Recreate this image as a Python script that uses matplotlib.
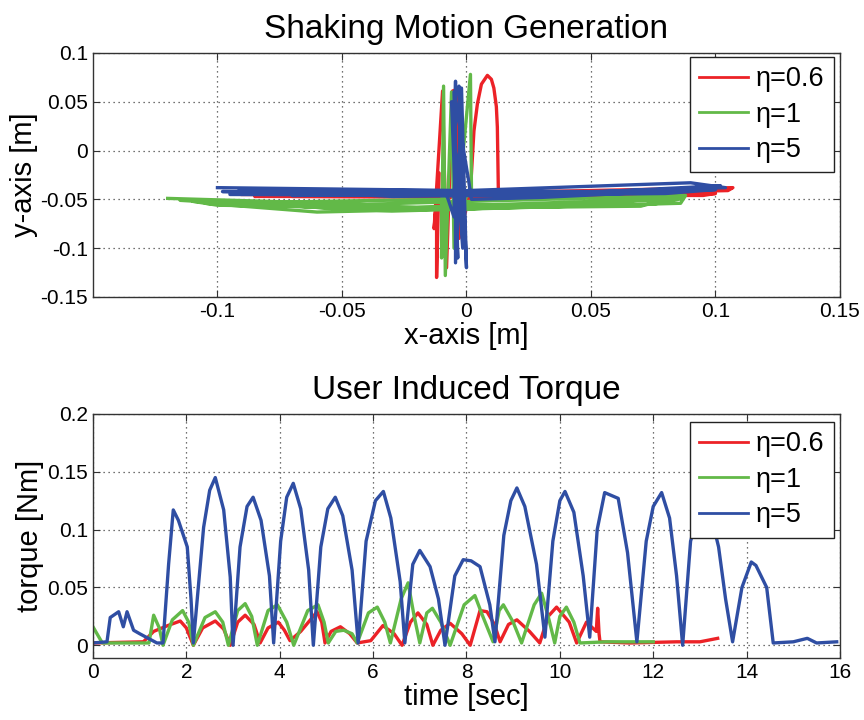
import matplotlib
matplotlib.use("Agg")
import matplotlib.pyplot as plt

plt.rcParams["font.family"] = ["Liberation Sans", "DejaVu Sans"]

# colours of the three gains
c_red = "#ec2227"
c_green = "#62b948"
c_blue = "#2f4ea3"
labels = ["\u03b7=0.6", "\u03b7=1", "\u03b7=5"]

# --- shaking motion (x, y) in metres ---
red_x = [-0.090, 0.020, 0.105, 0.107, 0.010, -0.080, -0.070, 0.030, 0.100, 0.095, -0.020, -0.060,
         -0.085, 0.060, 0.104,
         -0.012, -0.012, -0.011, -0.013, -0.0096, -0.008, -0.0056, -0.0036, -0.003,
         0.0016, 0.003, 0.0044, 0.006, 0.0084, 0.010, 0.011, 0.012, 0.0124, 0.0128, 0.040, 0.090]
red_y = [-0.045, -0.046, -0.041, -0.038, -0.043, -0.044, -0.047, -0.048, -0.044, -0.046, -0.046, -0.045,
         -0.047, -0.047, -0.040,
         -0.045, -0.130, -0.023, -0.080, 0.061, -0.120, 0.061, 0.063, -0.090,
         -0.041, 0.020, 0.048, 0.068, 0.077, 0.073, 0.064, 0.045, 0.024, -0.041, -0.044, -0.043]

green_x = [-0.120, -0.040, 0.088, 0.086, -0.030, -0.110, -0.100, 0.000, 0.080, 0.070, -0.050, -0.090,
           -0.115, -0.020, 0.087, 0.075, -0.060, -0.105,
           -0.010, -0.010, -0.0092, -0.0085, -0.006, -0.005, 0.0016, 0.002, -0.002, 0.030, 0.085]
green_y = [-0.049, -0.055, -0.046, -0.054, -0.062, -0.052, -0.056, -0.060, -0.050, -0.057, -0.060, -0.053,
           -0.051, -0.058, -0.049, -0.055, -0.063, -0.054,
           -0.050, -0.110, 0.066, -0.128, 0.060, -0.100, 0.078, -0.040, -0.055, -0.058, -0.048]

blue_x = [-0.100, 0.000, 0.090, 0.104, 0.050, -0.090, -0.095, 0.020, 0.100, 0.080, -0.030, -0.060,
          -0.098, 0.040, 0.102, 0.070, -0.070,
          -0.008, -0.005, -0.0044, -0.0044, -0.002, 0.000, -0.003, -0.0015, -0.006, -0.0035,
          -0.005, 0.001, 0.002, 0.030, 0.095]
blue_y = [-0.038, -0.041, -0.033, -0.038, -0.042, -0.040, -0.045, -0.046, -0.040, -0.044, -0.047, -0.043,
          -0.042, -0.044, -0.036, -0.042, -0.046,
          -0.045, -0.068, 0.071, -0.115, 0.064, -0.120, 0.066, -0.100, 0.050, -0.110,
          0.060, -0.033, -0.050, -0.048, -0.040]

# --- user induced torque [Nm] over time [sec] ---
red_t = [0, 1.08, 1.3, 1.6, 1.87, 2.0, 2.15, 2.35, 2.62, 2.8, 2.94, 3.1, 3.26, 3.45, 3.58, 3.75,
         3.97, 4.1, 4.22, 4.45, 4.8, 4.9, 4.97, 5.1, 5.3, 5.5, 5.66, 5.95, 6.21, 6.45, 6.62, 6.8,
         6.96, 7.15, 7.28, 7.45, 7.65, 7.9, 8.08, 8.29, 8.44, 8.6, 8.72, 8.9, 9.08, 9.35, 9.57,
         9.75, 9.93, 10.2, 10.36, 10.57, 10.78, 10.81, 10.84, 10.86, 11.5, 12.5, 13.0, 13.38]
red_tq = [0.002, 0.003, 0.012, 0.017, 0.021, 0.015, 0.0, 0.015, 0.021, 0.014, 0.0, 0.020, 0.026, 0.018,
          0.002, 0.015, 0.020, 0.013, 0.004, 0.012, 0.029, 0.020, 0.002, 0.012, 0.016, 0.010, 0.002,
          0.004, 0.017, 0.010, 0.0, 0.020, 0.028, 0.018, 0.0, 0.013, 0.019, 0.010, 0.0, 0.030, 0.029,
          0.018, 0.003, 0.018, 0.022, 0.012, 0.002, 0.025, 0.033, 0.020, 0.002, 0.020, 0.012, 0.032,
          0.010, 0.003, 0.002, 0.003, 0.003, 0.006]

green_t = [0, 0.2, 1.2, 1.3, 1.42, 1.5, 1.7, 1.92, 2.05, 2.15, 2.4, 2.62, 2.78, 2.9, 3.1, 3.26, 3.4,
           3.52, 3.75, 3.95, 4.15, 4.3, 4.6, 4.82, 4.95, 5.04, 5.2, 5.37, 5.55, 5.66, 5.9, 6.09, 6.25,
           6.37, 6.6, 6.75, 6.88, 7.0, 7.15, 7.27, 7.45, 7.65, 7.95, 8.18, 8.35, 8.57, 8.7, 8.79, 9.0,
           9.18, 9.45, 9.61, 9.75, 9.89, 10.0, 10.14, 10.3, 10.43, 11.0, 12.0]
green_tq = [0.016, 0.002, 0.002, 0.026, 0.015, 0.0, 0.022, 0.030, 0.020, 0.0, 0.024, 0.029, 0.020, 0.0,
            0.030, 0.036, 0.025, 0.0, 0.030, 0.035, 0.020, 0.0, 0.030, 0.035, 0.020, 0.002, 0.012,
            0.013, 0.010, 0.002, 0.028, 0.033, 0.020, 0.002, 0.040, 0.054, 0.025, 0.002, 0.028, 0.032,
            0.020, 0.0, 0.035, 0.043, 0.025, 0.003, 0.030, 0.035, 0.020, 0.002, 0.035, 0.045, 0.025,
            0.002, 0.025, 0.033, 0.020, 0.002, 0.003, 0.003]

blue_t = [0, 0.3, 0.37, 0.55, 0.65, 0.73, 0.87, 1.0, 1.37, 1.5, 1.62, 1.72, 1.83, 2.02, 2.1, 2.15,
          2.37, 2.5, 2.62, 2.8, 2.94, 3.0, 3.15, 3.3, 3.43, 3.6, 3.78, 3.87, 4.02, 4.15, 4.29, 4.45,
          4.62, 4.72, 4.88, 5.03, 5.19, 5.35, 5.55, 5.68, 5.85, 6.05, 6.22, 6.38, 6.58, 6.68, 6.85,
          7.0, 7.22, 7.4, 7.54, 7.75, 7.93, 8.1, 8.29, 8.5, 8.61, 8.8, 8.95, 9.08, 9.25, 9.5, 9.68,
          9.85, 10.0, 10.11, 10.3, 10.5, 10.64, 10.8, 10.96, 11.25, 11.45, 11.65, 11.85, 12.0, 12.18,
          12.35, 12.5, 12.63, 12.8, 13.05, 13.25, 13.4, 13.55, 13.7, 13.9, 14.1, 14.2, 14.43, 14.57,
          15.0, 15.3, 15.5, 15.93]
blue_tq = [0.002, 0.003, 0.024, 0.029, 0.016, 0.029, 0.013, 0.010, 0.002, 0.002, 0.070, 0.117, 0.108,
           0.085, 0.040, 0.002, 0.102, 0.134, 0.145, 0.117, 0.059, 0.0, 0.085, 0.120, 0.128, 0.108,
           0.060, 0.002, 0.090, 0.128, 0.140, 0.118, 0.065, 0.0, 0.085, 0.118, 0.128, 0.112, 0.065,
           0.002, 0.090, 0.125, 0.133, 0.110, 0.055, 0.002, 0.070, 0.082, 0.068, 0.040, 0.0, 0.060,
           0.074, 0.073, 0.068, 0.035, 0.003, 0.095, 0.125, 0.136, 0.120, 0.070, 0.007, 0.090, 0.125,
           0.133, 0.115, 0.060, 0.007, 0.100, 0.132, 0.127, 0.080, 0.003, 0.090, 0.120, 0.132, 0.110,
           0.060, 0.0, 0.090, 0.125, 0.110, 0.085, 0.040, 0.003, 0.050, 0.072, 0.069, 0.050, 0.002,
           0.003, 0.006, 0.002, 0.003]

fig = plt.figure(figsize=(8.64, 7.2), dpi=100)
ax1 = fig.add_axes([0.1076, 0.5875, 0.8646, 0.339])
ax2 = fig.add_axes([0.1076, 0.0861, 0.8646, 0.339])

lw = 2.4
ax1.plot(red_x, red_y, color=c_red, lw=lw, label=labels[0])
ax1.plot(green_x, green_y, color=c_green, lw=lw, label=labels[1])
ax1.plot(blue_x, blue_y, color=c_blue, lw=lw, label=labels[2])

ax2.plot(red_t, red_tq, color=c_red, lw=lw, label=labels[0])
ax2.plot(green_t, green_tq, color=c_green, lw=lw, label=labels[1])
ax2.plot(blue_t, blue_tq, color=c_blue, lw=lw, label=labels[2])

ax1.set_xlim(-0.15, 0.15)
ax1.set_ylim(-0.15, 0.1)
ax1.set_xticks([-0.1, -0.05, 0, 0.05, 0.1, 0.15], labels=["-0.1", "-0.05", "0", "0.05", "0.1", "0.15"])
ax1.set_yticks([-0.15, -0.1, -0.05, 0, 0.05, 0.1], labels=["-0.15", "-0.1", "-0.05", "0", "0.05", "0.1"])
ax1.set_title("Shaking Motion Generation", fontsize=24, pad=11)
ax1.set_xlabel("x-axis [m]", fontsize=21, labelpad=1)
ax1.set_ylabel("y-axis [m]", fontsize=21, labelpad=2)

ax2.set_xlim(0, 16)
ax2.set_ylim(-0.011, 0.2)
ax2.set_xticks(range(0, 17, 2))
ax2.set_yticks([0, 0.05, 0.1, 0.15, 0.2], labels=["0", "0.05", "0.1", "0.15", "0.2"])
ax2.set_title("User Induced Torque", fontsize=24, pad=11)
ax2.set_xlabel("time [sec]", fontsize=21, labelpad=1)
ax2.set_ylabel("torque [Nm]", fontsize=21, labelpad=2)

for ax, top in [(ax1, 0.985), (ax2, 0.968)]:
    ax.grid(True, color="#444444", linestyle=(0, (1, 3)), linewidth=0.9)
    ax.tick_params(direction="in", top=True, right=True, labelsize=15, length=5, color="#333333")
    for s in ax.spines.values():
        s.set_color("#333333")
        s.set_linewidth(1.0)
    leg = ax.legend(loc="upper right", bbox_to_anchor=(0.992, top), borderaxespad=0,
                    fontsize=19.5, handlelength=1.8, handletextpad=0.3, labelspacing=0.35,
                    borderpad=0.35, fancybox=False, framealpha=1, edgecolor="#222222")
    leg.get_frame().set_linewidth(1.0)
    for h in leg.get_lines():
        h.set_linewidth(2.0)

fig.savefig("out.png", dpi=100)
